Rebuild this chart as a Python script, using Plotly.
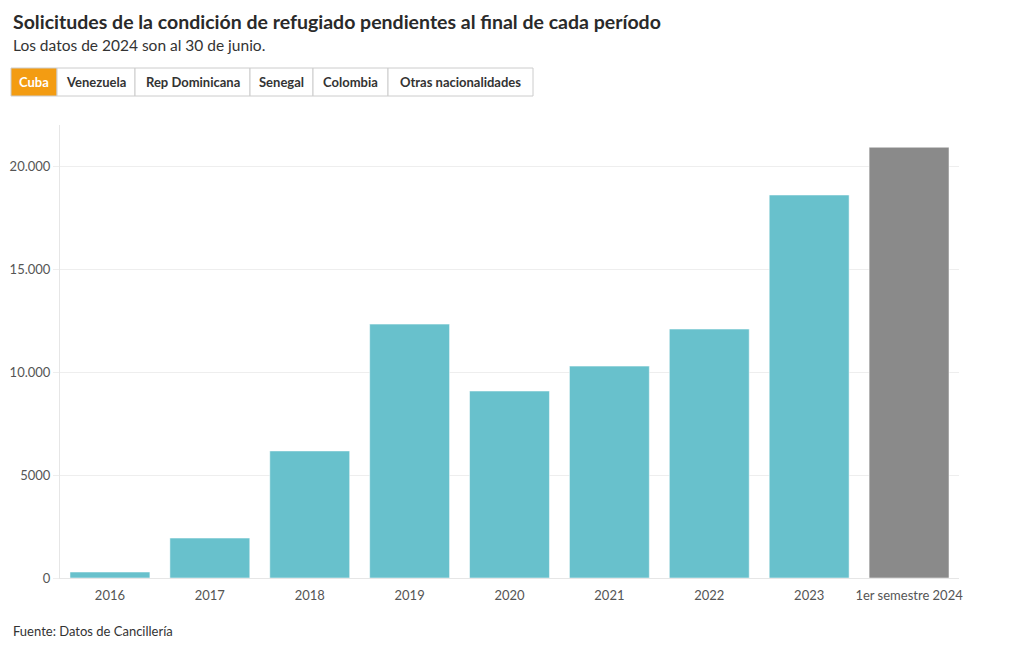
import plotly.graph_objects as go

categories = ["2016", "2017", "2018", "2019", "2020", "2021", "2022", "2023", "1er semestre 2024"]
values = [290, 1940, 6170, 12330, 9080, 10290, 12090, 18600, 20920]
bar_colors = ["#68c1cc"] * 8 + ["#8a8a8a"]
ytick_vals = [0, 5000, 10000, 15000, 20000]
ytick_text = ["0", "5000", "10.000", "15.000", "20.000"]
buttons = ["Cuba", "Venezuela", "Rep Dominicana", "Senegal", "Colombia", "Otras nacionalidades"]
button_edges = [11, 57, 135, 250, 313, 388, 533]

FONT = "Lato"
OFF = 8  # page body margin offset
W, H = 1020 - OFF, 650 - OFF
L, R, T, B = 60 - OFF, 61, 125 - OFF, 72
PW, PH = W - L - R, H - T - B


def px(x):
    return (x - OFF - L) / PW


def py(y):
    return (H - B - (y - OFF)) / PH


fig = go.Figure(go.Bar(
    x=categories, y=values,
    marker=dict(color=bar_colors, line=dict(color="rgba(255,255,255,0.5)", width=1)),
))

shapes = []
annotations = []
for i, name in enumerate(buttons):
    x0, x1 = button_edges[i], button_edges[i + 1]
    active = i == 0
    shapes.append(dict(
        type="rect", xref="paper", yref="paper",
        x0=px(x0), x1=px(x1), y0=py(96), y1=py(68),
        fillcolor="#f39c12" if active else "white",
        line=dict(color="#cccccc", width=1), layer="above",
    ))
    annotations.append(dict(
        text=f"<b>{name}</b>", xref="paper", yref="paper",
        x=px((x0 + x1) / 2), y=py(82),
        xanchor="center", yanchor="middle", showarrow=False,
        font=dict(family=FONT, size=13, color="white" if active else "#333333"),
    ))

annotations += [
    dict(text="<b>Solicitudes de la condición de refugiado pendientes al final de cada período</b>",
         xref="paper", yref="paper", x=px(11), y=py(22),
         xanchor="left", yanchor="middle", showarrow=False,
         font=dict(family=FONT, size=19.5, color="#2a2a2a")),
    dict(text="Los datos de 2024 son al 30 de junio.",
         xref="paper", yref="paper", x=px(11), y=py(45),
         xanchor="left", yanchor="middle", showarrow=False,
         font=dict(family=FONT, size=15.5, color="#333333")),
    dict(text="Fuente: Datos de Cancillería",
         xref="paper", yref="paper", x=px(11), y=py(631),
         xanchor="left", yanchor="middle", showarrow=False,
         font=dict(family=FONT, size=13, color="#333333")),
]

fig.update_layout(
    width=W, height=H,
    margin=dict(l=L, r=R, t=T, b=B, autoexpand=False),
    paper_bgcolor="white", plot_bgcolor="white",
    bargap=0.2,
    showlegend=False,
    font=dict(family=FONT, size=13, color="#555555"),
    shapes=shapes, annotations=annotations,
    xaxis=dict(showgrid=False, showline=True, linecolor="#e6e6e6", ticks="",
               ticklabelstandoff=5,
               automargin=False, tickfont=dict(size=13, color="#555555")),
    yaxis=dict(range=[0, 22000], tickvals=ytick_vals, ticktext=ytick_text,
               showgrid=True, gridcolor="#eeeeee", zeroline=False,
               showline=True, linecolor="#e6e6e6", automargin=False,
               ticks="outside", ticklen=6, tickcolor="#eeeeee",
               tickfont=dict(size=13, color="#555555")),
)

fig.write_html("out.html")
